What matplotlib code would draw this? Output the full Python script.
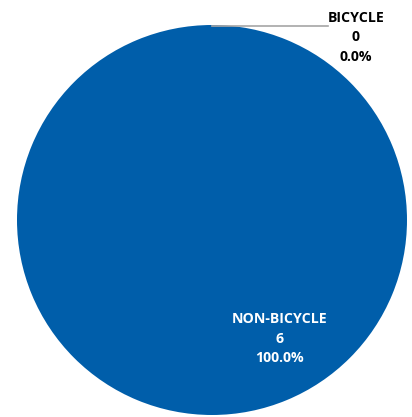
import matplotlib
matplotlib.use("Agg")
import matplotlib.pyplot as plt

categories = ["BICYCLE", "NON-BICYCLE"]
values = [0, 6]
colors = ["#A5A5A5", "#005EAA"]

fig = plt.figure(figsize=(4.12, 4.17), dpi=100)
ax = fig.add_axes([17/412, 2/417, 390/412, 390/417])
ax.pie(values, colors=colors, startangle=90, counterclock=False,
       wedgeprops=dict(linewidth=0))
ax.set_xlim(-1, 1)
ax.set_ylim(-1, 1)
ax.set_aspect("auto")
ax.axis("off")

total = sum(values)
pcts = [v / total * 100 for v in values]
labels = [f"{c}\n{v}\n{p:.1f}%" for c, v, p in zip(categories, values, pcts)]

font = dict(family=["Open Sans", "DejaVu Sans"], fontweight="bold", fontsize=10.2,
            ha="center", va="center", linespacing=1.5)
ax.text(0.738, 0.938, labels[0], color="black", clip_on=False, **font)
ax.text(0.344, -0.610, labels[1], color="white", **font)
ax.plot([0.0, 0.595], [0.995, 0.995], color="#A6A6A6", lw=1.2, clip_on=False)

fig.savefig("out.png", dpi=100)
